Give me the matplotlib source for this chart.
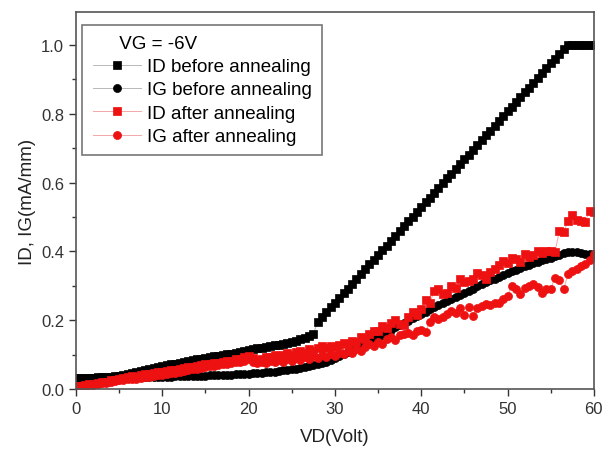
import matplotlib
matplotlib.use("Agg")
import matplotlib.pyplot as plt

plt.rcParams['font.family'] = ['Liberation Sans', 'DejaVu Sans']

VD = [0, 0.5, 1, 1.5, 2, 2.5, 3, 3.5, 4, 4.5, 5, 5.5, 6, 6.5, 7, 7.5, 8, 8.5, 9, 9.5,
      10, 10.5, 11, 11.5, 12, 12.5, 13, 13.5, 14, 14.5, 15, 15.5, 16, 16.5, 17, 17.5, 18, 18.5, 19, 19.5,
      20, 20.5, 21, 21.5, 22, 22.5, 23, 23.5, 24, 24.5, 25, 25.5, 26, 26.5, 27, 27.5, 28, 28.5, 29, 29.5,
      30, 30.5, 31, 31.5, 32, 32.5, 33, 33.5, 34, 34.5, 35, 35.5, 36, 36.5, 37, 37.5, 38, 38.5, 39, 39.5,
      40, 40.5, 41, 41.5, 42, 42.5, 43, 43.5, 44, 44.5, 45, 45.5, 46, 46.5, 47, 47.5, 48, 48.5, 49, 49.5,
      50, 50.5, 51, 51.5, 52, 52.5, 53, 53.5, 54, 54.5, 55, 55.5, 56, 56.5, 57, 57.5, 58, 58.5, 59, 59.5,
      60]

ID_before = [0.033, 0.033, 0.033, 0.033, 0.033, 0.034, 0.034, 0.035, 0.036, 0.037,
             0.039, 0.041, 0.044, 0.047, 0.050, 0.053, 0.056, 0.059, 0.062, 0.064,
             0.067, 0.069, 0.072, 0.074, 0.077, 0.079, 0.082, 0.084, 0.086, 0.088,
             0.091, 0.093, 0.095, 0.097, 0.099, 0.101, 0.103, 0.106, 0.108, 0.111,
             0.113, 0.115, 0.118, 0.120, 0.122, 0.124, 0.127, 0.129, 0.132, 0.135,
             0.138, 0.141, 0.145, 0.149, 0.154, 0.160, 0.195, 0.209, 0.223, 0.237,
             0.250, 0.264, 0.278, 0.292, 0.306, 0.320, 0.334, 0.348, 0.362, 0.376,
             0.390, 0.403, 0.417, 0.431, 0.445, 0.459, 0.473, 0.487, 0.501, 0.515,
             0.529, 0.542, 0.556, 0.570, 0.584, 0.598, 0.612, 0.626, 0.640, 0.654,
             0.668, 0.681, 0.695, 0.709, 0.723, 0.737, 0.751, 0.765, 0.779, 0.793,
             0.807, 0.820, 0.834, 0.848, 0.862, 0.876, 0.890, 0.904, 0.918, 0.932,
             0.946, 0.959, 0.973, 0.987, 1.000, 1.000, 1.000, 1.000, 1.000, 1.000,
             1.000]

IG_before = [0.030, 0.030, 0.030, 0.030, 0.031, 0.031, 0.031, 0.031, 0.032, 0.032,
             0.032, 0.033, 0.033, 0.033, 0.034, 0.034, 0.034, 0.035, 0.035, 0.035,
             0.036, 0.036, 0.036, 0.037, 0.037, 0.037, 0.038, 0.038, 0.038, 0.039,
             0.039, 0.040, 0.040, 0.041, 0.041, 0.042, 0.042, 0.043, 0.044, 0.044,
             0.045, 0.046, 0.047, 0.048, 0.049, 0.050, 0.051, 0.052, 0.054, 0.055,
             0.057, 0.059, 0.061, 0.063, 0.066, 0.069, 0.072, 0.076, 0.080, 0.085,
             0.090, 0.096, 0.101, 0.107, 0.113, 0.119, 0.125, 0.132, 0.138, 0.145,
             0.151, 0.158, 0.165, 0.172, 0.179, 0.186, 0.193, 0.199, 0.206, 0.212,
             0.219, 0.225, 0.232, 0.238, 0.244, 0.250, 0.256, 0.262, 0.268, 0.274,
             0.280, 0.286, 0.292, 0.298, 0.304, 0.310, 0.316, 0.321, 0.327, 0.332,
             0.337, 0.342, 0.347, 0.352, 0.357, 0.361, 0.366, 0.370, 0.374, 0.378,
             0.382, 0.386, 0.390, 0.394, 0.397, 0.398, 0.397, 0.395, 0.393, 0.392,
             0.391]

ID_after = [0.008, 0.010, 0.012, 0.014, 0.016, 0.018, 0.020, 0.022, 0.025, 0.027,
            0.030, 0.032, 0.035, 0.037, 0.036, 0.040, 0.043, 0.045, 0.047, 0.049,
            0.050, 0.052, 0.054, 0.056, 0.058, 0.061, 0.063, 0.065, 0.068, 0.070,
            0.072, 0.074, 0.075, 0.077, 0.080, 0.082, 0.083, 0.086, 0.088, 0.092,
            0.097, 0.090, 0.085, 0.088, 0.094, 0.092, 0.098, 0.095, 0.100, 0.104,
            0.099, 0.108, 0.110, 0.104, 0.115, 0.112, 0.118, 0.124, 0.120, 0.126,
            0.122, 0.128, 0.133, 0.130, 0.140, 0.138, 0.150, 0.145, 0.160, 0.170,
            0.168, 0.182, 0.178, 0.192, 0.200, 0.190, 0.185, 0.210, 0.223, 0.215,
            0.232, 0.260, 0.250, 0.285, 0.290, 0.275, 0.280, 0.300, 0.295, 0.319,
            0.310, 0.314, 0.320, 0.338, 0.330, 0.319, 0.340, 0.348, 0.360, 0.372,
            0.365, 0.381, 0.377, 0.370, 0.391, 0.385, 0.390, 0.400, 0.395, 0.400,
            0.400, 0.398, 0.459, 0.455, 0.488, 0.507, 0.490, 0.488, 0.486, 0.517,
            0.515]

IG_after = [0.008, 0.009, 0.010, 0.012, 0.013, 0.015, 0.017, 0.019, 0.021, 0.023,
            0.025, 0.027, 0.029, 0.030, 0.028, 0.032, 0.034, 0.036, 0.038, 0.040,
            0.042, 0.044, 0.046, 0.048, 0.050, 0.052, 0.054, 0.057, 0.059, 0.061,
            0.063, 0.066, 0.068, 0.070, 0.072, 0.074, 0.076, 0.078, 0.080, 0.083,
            0.088, 0.078, 0.075, 0.080, 0.077, 0.082, 0.079, 0.084, 0.080, 0.086,
            0.083, 0.089, 0.085, 0.092, 0.088, 0.095, 0.091, 0.098, 0.094, 0.102,
            0.097, 0.106, 0.101, 0.110, 0.106, 0.116, 0.112, 0.122, 0.130, 0.124,
            0.138, 0.132, 0.145, 0.150, 0.142, 0.156, 0.160, 0.164, 0.158, 0.168,
            0.172, 0.167, 0.195, 0.208, 0.205, 0.210, 0.218, 0.226, 0.222, 0.235,
            0.214, 0.237, 0.213, 0.236, 0.240, 0.246, 0.243, 0.249, 0.251, 0.262,
            0.271, 0.300, 0.290, 0.276, 0.295, 0.300, 0.305, 0.296, 0.280, 0.290,
            0.291, 0.324, 0.318, 0.290, 0.333, 0.343, 0.350, 0.357, 0.362, 0.375,
            0.391]

series = [
    ("ID before annealing", ID_before, "s", "black", "#b8b8b8"),
    ("IG before annealing", IG_before, "o", "black", "#b8b8b8"),
    ("ID after annealing", ID_after, "s", "#ee1111", "#f4a8a8"),
    ("IG after annealing", IG_after, "o", "#ee1111", "#f4a8a8"),
]

fig = plt.figure(figsize=(6.16, 4.52), dpi=100)
ax = fig.add_axes([0.1234, 0.137, 0.8406, 0.834])

for label, vals, mk, mc, lc in series:
    ax.plot(VD, vals, color=lc, lw=0.7, marker=mk, markersize=5.8,
            markerfacecolor=mc, markeredgecolor=mc, markeredgewidth=0.5, label=label)

ax.set_xlim(0, 60)
ax.set_ylim(0, 1.095)
ax.set_xticks([0, 10, 20, 30, 40, 50, 60])
ax.set_xticks([5, 15, 25, 35, 45, 55], minor=True)
ax.set_yticks([0.0, 0.2, 0.4, 0.6, 0.8, 1.0])
ax.set_yticks([0.1, 0.3, 0.5, 0.7, 0.9], minor=True)
ax.set_yticklabels(["0.0", "0.2", "0.4", "0.6", "0.8", "1.0"])

ax.tick_params(which='major', direction='out', length=5, width=1, colors='#333333',
               labelsize=12, top=False, right=False)
ax.tick_params(which='minor', direction='out', length=3, width=1, colors='#333333',
               top=False, right=False)
for sp in ax.spines.values():
    sp.set_color('#555555')
    sp.set_linewidth(1.2)

ax.set_xlabel("VD(Volt)", fontsize=13.5, color='#222222', labelpad=9)
ax.set_ylabel("ID, IG(mA/mm)", fontsize=13.5, color='#222222', labelpad=4)

leg = ax.legend(loc='upper left', bbox_to_anchor=(0.012, 0.967), borderaxespad=0,
                title="     VG = -6V", title_fontsize=13.5, fontsize=13.5,
                alignment='left', handlelength=2.6, handletextpad=0.3,
                labelspacing=0.33, borderpad=0.55, fancybox=False, framealpha=1,
                edgecolor='#777777')
leg.get_frame().set_linewidth(1.2)

fig.savefig("out.png", dpi=100)
